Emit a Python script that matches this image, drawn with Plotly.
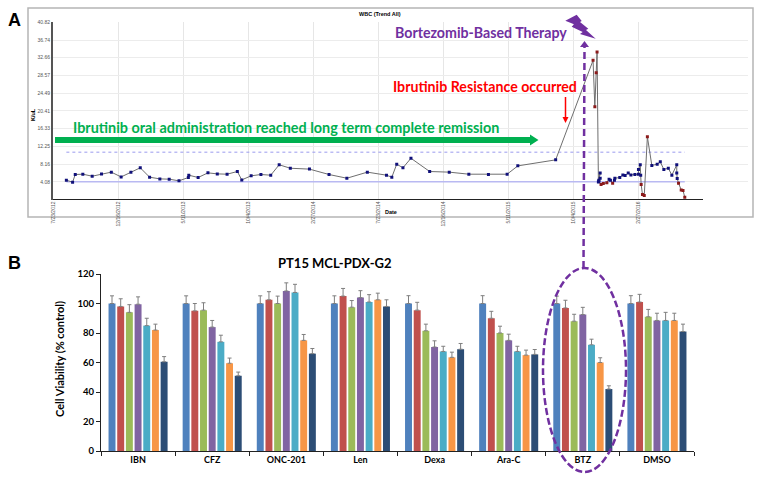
import plotly.graph_objs as go

W, H = 762, 481

# panel A: WBC trend, x is days since the first date tick
wbc_days = [30, 44, 50, 67, 88, 109, 131, 153, 175, 196, 217, 240, 261, 283, 304, 305, 326, 348,
            369, 391, 414, 424, 445, 467, 489, 508, 533, 576, 620, 660, 706, 749, 761, 772, 786,
            804, 846, 890, 934, 978, 1020, 1044, 1129, 1213, 1217, 1220, 1222, 1225, 1229, 1226,
            1229, 1226, 1231, 1236, 1244, 1249, 1252, 1257, 1261, 1262, 1273, 1280, 1285, 1292,
            1298, 1307, 1315, 1315, 1319, 1320, 1321, 1324, 1328, 1335, 1345, 1357, 1364, 1372,
            1382, 1390, 1401, 1401, 1402, 1405, 1411, 1415, 1419]
wbc_vals = [4.45, 3.99, 5.76, 5.83, 5.37, 5.9, 6.3, 5.2, 6.3, 7.3, 5.14, 4.75, 4.68, 4.3, 5.07,
            5.6, 5.07, 6.14, 5.9, 5.83, 6.45, 4.52, 5.45, 5.76, 5.6, 8.0, 7.2, 7.0, 5.76, 4.9,
            6.3, 5.6, 5.14, 8.14, 7.3, 9.5, 6.45, 6.3, 5.83, 5.76, 5.83, 7.75, 9.13, 32.05, 21.35,
            29.2, 34.0, 4.06, 6.13, 4.45, 4.9, 4.2, 3.46, 3.69, 3.83, 4.68, 4.45, 3.76, 4.45, 4.9,
            5.07, 5.67, 5.53, 6.13, 5.67, 5.76, 5.83, 6.92, 7.98, 5.6, 3.46, 1.15, 0.92, 14.44,
            7.84, 8.14, 8.67, 6.92, 7.22, 5.6, 7.98, 6.13, 4.84, 3.76, 2.21, 2.08, 0.53]
wbc_low = 3.9
wbc_high = 10.9
ref_low = 4.08
ref_days = [30, 1419]
wbc_ticks = [4.08, 8.16, 12.25, 16.33, 20.41, 24.49, 28.57, 32.66, 36.74, 40.82]
date_ticks = [0, 146, 292, 438, 584, 730, 876, 1022, 1168, 1314]
date_labels = ['7/23/2012', '12/16/2012', '5/11/2013', '10/4/2013', '2/27/2014',
               '7/23/2014', '12/16/2014', '5/11/2015', '10/4/2015', '2/27/2016']

# panel B: cell viability
drugs = ['IBN', 'CFZ', 'ONC-201', 'Len', 'Dexa', 'Ara-C', 'BTZ', 'DMSO']
dose1 = [100, 100, 100, 100, 100, 100, 100, 100]
dose2 = [98, 95, 102.5, 105, 95.5, 90, 97, 101]
dose3 = [94, 95.5, 100, 97.5, 81.5, 80, 88, 91]
dose4 = [99.5, 84, 108.5, 104, 70.5, 75, 92.5, 88.5]
dose5 = [85, 74, 107.5, 101, 67.5, 67.5, 72, 88.5]
dose6 = [82, 59.5, 75, 102.5, 63.5, 65, 60, 88.5]
dose7 = [60.5, 51, 66, 98, 69, 65.5, 42, 81]
err1 = [5.2, 5.2, 5.2, 5.2, 5.3, 5.3, 5, 5.3]
err2 = [5.2, 5, 5.5, 5.2, 5.3, 4.7, 5.2, 5.2]
err3 = [5.2, 5, 5, 4.5, 4.5, 4.6, 4.7, 5]
err4 = [5, 4.5, 5.5, 4.7, 4.2, 4.2, 4.9, 4.9]
err5 = [5, 4.5, 5.5, 5, 3.5, 3.5, 3.8, 5.5]
err6 = [4, 3.5, 4, 4.5, 3.5, 3.4, 3.2, 4.9]
err7 = [3.5, 2.5, 3.5, 4.5, 3.9, 3.3, 2.2, 5]
bar_colors = ['#4f81bd', '#c0504d', '#9bbb59', '#8064a2', '#4bacc6', '#f79646', '#2c4d75']

PURPLE = '#7030a0'
GREEN = '#00b050'
RED = '#ff0000'


def px(x):
    return x / W


def py(y):
    return 1 - y / H


def poly(points, color):
    path = 'M ' + ' L '.join(f'{px(x):.5f},{py(y):.5f}' for x, y in points) + ' Z'
    return dict(type='path', xref='paper', yref='paper', path=path,
                fillcolor=color, line=dict(width=0), layer='above')


def seg(x0, y0, x1, y1, color, width, dash='solid'):
    return dict(type='line', xref='paper', yref='paper', x0=px(x0), y0=py(y0), x1=px(x1), y1=py(y1),
                line=dict(color=color, width=width, dash=dash), layer='above')


def label(x, y, text, size, color='black', family='Lato', angle=0, anchor='center'):
    return dict(xref='paper', yref='paper', x=px(x), y=py(y), text=text, showarrow=False,
                xanchor=anchor, yanchor='middle', textangle=angle,
                font=dict(size=size, color=color, family=family))


fig = go.Figure()

# panel A traces
fig.add_trace(go.Scatter(x=ref_days, y=[ref_low, ref_low], mode='lines', xaxis='x', yaxis='y',
                         line=dict(color='#b9b9f2', width=1.5)))
fig.add_trace(go.Scatter(x=ref_days, y=[wbc_high, wbc_high], mode='lines', xaxis='x', yaxis='y',
                         line=dict(color='#9a9aee', width=1, dash='dot')))
point_colors = ['#8b1a1a' if v < wbc_low or v > wbc_high else '#10107a' for v in wbc_vals]
fig.add_trace(go.Scatter(x=wbc_days, y=wbc_vals, mode='lines+markers', xaxis='x', yaxis='y',
                         line=dict(color='#6e6e6e', width=1),
                         marker=dict(color=point_colors, size=3, symbol='square')))

# panel B traces
all_doses = [dose1, dose2, dose3, dose4, dose5, dose6, dose7]
all_errs = [err1, err2, err3, err4, err5, err6, err7]
for i in range(7):
    fig.add_trace(go.Bar(x=drugs, y=all_doses[i], xaxis='x2', yaxis='y2', marker_color=bar_colors[i],
                         marker_line_width=0,
                         error_y=dict(type='data', symmetric=False, array=all_errs[i],
                                      arrayminus=[0] * 8, color='#7f7f7f', thickness=1, width=2)))

shapes = [
    # frame of the panel A screenshot
    dict(type='rect', xref='paper', yref='paper', x0=px(28), y0=py(8), x1=px(753), y1=py(217),
         line=dict(color='#b5b5b5', width=1.5), layer='below'),
    seg(53, 199.5, 703, 199.5, '#222222', 1),
    # green remission arrow
    poly([(55, 137), (530, 137), (530, 134.5), (538.5, 140), (530, 145.5), (530, 143), (55, 143)], GREEN),
    # red resistance arrow
    seg(565.5, 97, 565.5, 118, RED, 1.5),
    poly([(562.5, 117), (568.5, 117), (565.5, 123)], RED),
    # lightning bolt
    poly([(576.7, 14.7), (581.7, 21), (580, 22), (588.3, 28.7), (586, 30), (595.7, 38.7),
          (580, 34), (582.7, 32), (571.7, 26.7), (574, 24.3), (565.3, 20.7)], PURPLE),
    # dashed link to BTZ
    seg(583.5, 268, 584.5, 47, PURPLE, 2.5, '7px,4px'),
    poly([(580, 47), (589, 47), (584.5, 41)], PURPLE),
    dict(type='circle', xref='paper', yref='paper', x0=px(543), y0=py(268), x1=px(626), y1=py(472),
         line=dict(color=PURPLE, width=2.5, dash='7px,3px'), layer='above'),
]

annotations = [
    label(14, 20, '<b>A</b>', 18, family='Liberation Sans'),
    label(14, 263, '<b>B</b>', 18, family='Liberation Sans'),
    label(380, 14, '<b>WBC (Trend All)</b>', 5.5, family='Liberation Sans'),
    label(391, 212, '<b>Date</b>', 5.5, family='Liberation Sans'),
    label(33, 115, '<b>K/uL</b>', 5.5, family='Liberation Sans', angle=-90),
    label(71, 127, '<b>Ibrutinib oral administration reached long term complete remission</b>', 14.4,
          color=GREEN, anchor='left'),
    label(393, 32, '<b>Bortezomib-Based Therapy</b>', 14.2, color=PURPLE, anchor='left'),
    label(391, 86, '<b>Ibrutinib Resistance occurred</b>', 14.2, color=RED, anchor='left'),
    label(335, 263, '<b>PT15 MCL-PDX-G2</b>', 13),
    label(59, 359, '<b>Cell Viability (% control)</b>', 11, angle=-90),
]

fig.update_layout(
    width=W,
    height=H,
    margin=dict(l=0, r=0, t=0, b=0),
    paper_bgcolor='white',
    plot_bgcolor='white',
    showlegend=False,
    barmode='group',
    bargap=0.18,
    bargroupgap=0.2,
    shapes=shapes,
    annotations=annotations,
    xaxis=dict(
        domain=[px(53), px(748)],
        anchor='y',
        automargin=False,
        range=[0, 1561],
        tickmode='array',
        tickvals=date_ticks,
        ticktext=date_labels,
        tickangle=-90,
        tickfont=dict(size=5, color='#555555', family='Liberation Sans'),
        showgrid=True,
        gridcolor='#e6e6e6',
        gridwidth=1,
        zeroline=False,
        showline=False
    ),
    yaxis=dict(
        domain=[py(199.5), py(22.3)],
        anchor='x',
        automargin=False,
        range=[0, 40.82],
        tickmode='array',
        tickvals=wbc_ticks,
        ticktext=[f'{v:.2f}' for v in wbc_ticks],
        tickfont=dict(size=5, color='#555555', family='Liberation Sans'),
        showgrid=True,
        gridcolor='#ececec',
        gridwidth=1,
        zeroline=False,
        showline=True,
        linecolor='#555555',
        linewidth=2
    ),
    xaxis2=dict(
        domain=[px(101), px(694)],
        anchor='y2',
        automargin=False,
        type='category',
        categoryorder='array',
        categoryarray=drugs,
        tickson='boundaries',
        ticks='outside',
        ticklen=4,
        tickcolor='#222222',
        tickfont=dict(size=9, color='black', family='Lato', weight='bold'),
        showline=True,
        linecolor='#222222',
        linewidth=1,
        showgrid=False,
        zeroline=False
    ),
    yaxis2=dict(
        domain=[py(451), py(274)],
        anchor='x2',
        automargin=False,
        range=[0, 120],
        tick0=0,
        dtick=20,
        ticks='outside',
        ticklen=4,
        tickcolor='#222222',
        tickfont=dict(size=9.5, color='black', family='Lato', weight='bold'),
        showline=True,
        linecolor='#222222',
        linewidth=1,
        showgrid=False,
        zeroline=False
    )
)

fig.write_html("out.html", post_script="document.body.style.margin='0';",
               config=dict(displayModeBar=False))
